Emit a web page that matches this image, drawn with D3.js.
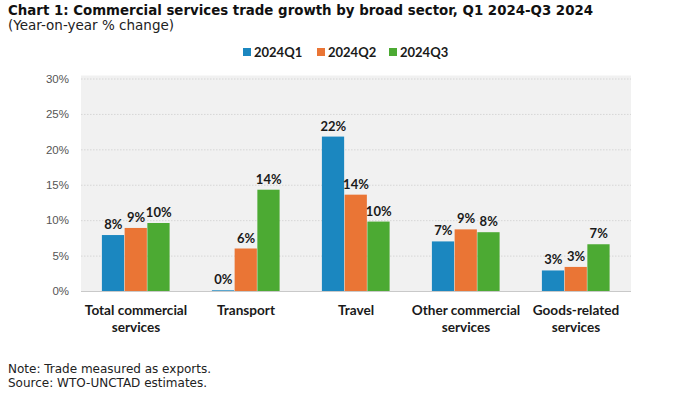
<!DOCTYPE html>
<html>
<head>
<meta charset="utf-8">
<script src="https://cdn.jsdelivr.net/npm/d3@7"></script>
<style>
  html, body { margin: 0; padding: 0; background: #ffffff; }
  svg { display: block; }
</style>
</head>
<body>
<svg id="chart" width="695" height="394"></svg>
<script>
const categories = [["Total commercial", "services"], ["Transport"], ["Travel"], ["Other commercial", "services"], ["Goods-related", "services"]];
const seriesNames = ["2024Q1", "2024Q2", "2024Q3"];
const q1 = [7.9, 0.1, 21.8, 7.0, 2.9];
const q2 = [8.9, 6.0, 13.6, 8.7, 3.4];
const q3 = [9.6, 14.3, 9.8, 8.3, 6.6];
const yTicks = [0, 5, 10, 15, 20, 25, 30];
const colors = ["#1b87c0", "#ea7535", "#4caa33"];

const series = [q1, q2, q3];
const svg = d3.select("#chart");
const W = 695, H = 394;
svg.append("rect").attr("width", W).attr("height", H).attr("fill", "#fff");

const plot = { left: 81, right: 631, top: 78.5, bottom: 291 };

const x0 = d3.scaleBand().domain(d3.range(categories.length))
  .range([plot.left, plot.right]).paddingInner(0.38).paddingOuter(0.19);
const x1 = d3.scaleBand().domain(d3.range(seriesNames.length))
  .range([0, x0.bandwidth()]);
const y = d3.scaleLinear().domain([0, 30]).range([plot.bottom, plot.top]);

// Title
svg.append("text").attr("x", 8).attr("y", 15)
  .attr("font-family", "DejaVu Sans, Verdana, sans-serif").attr("font-weight", "bold")
  .attr("font-size", 13.8).attr("fill", "#111")
  .attr("textLength", 585).attr("lengthAdjust", "spacingAndGlyphs")
  .text("Chart 1: Commercial services trade growth by broad sector, Q1 2024-Q3 2024");
svg.append("text").attr("x", 8).attr("y", 30)
  .attr("font-family", "DejaVu Sans, Verdana, sans-serif")
  .attr("font-size", 13.5).attr("fill", "#222")
  .text("(Year-on-year % change)");

// Plot background
svg.append("rect").attr("x", plot.left).attr("y", plot.top - 3)
  .attr("width", plot.right - plot.left).attr("height", plot.bottom - plot.top + 3)
  .attr("fill", "#f1f1f1");

// Gridlines
const yAxis = d3.axisLeft(y).tickValues(yTicks).tickFormat(d => d + "%")
  .tickSize(-(plot.right - plot.left)).tickPadding(12);
const gy = svg.append("g").attr("transform", `translate(${plot.left},0)`).call(yAxis);
gy.select(".domain").remove();
gy.selectAll(".tick line")
  .attr("stroke", d => d === 0 ? "#c9c9c9" : "#d6d6d6")
  .attr("stroke-width", d => d === 0 ? 1.2 : 1)
  .attr("stroke-dasharray", d => d === 0 ? null : "1.5,1.5");
gy.selectAll(".tick text")
  .attr("font-family", "Liberation Sans, Arial, sans-serif")
  .attr("font-size", 11.5).attr("fill", "#555");

// Bars
const groups = svg.append("g").selectAll("g").data(categories).join("g")
  .attr("transform", (d, i) => `translate(${x0(i)},0)`);

groups.each(function(cat, ci) {
  const g = d3.select(this);
  series.forEach((vals, si) => {
    const v = vals[ci];
    g.append("rect")
      .attr("x", x1(si)).attr("width", x1.bandwidth() - 0.5)
      .attr("y", y(v)).attr("height", y(0) - y(v))
      .attr("fill", colors[si]);
    g.append("text")
      .attr("x", x1(si) + x1.bandwidth() / 2)
      .attr("y", y(v) - 6)
      .attr("text-anchor", "middle")
      .attr("font-family", "Lato, Open Sans, sans-serif").attr("font-weight", "bold")
      .attr("font-size", 13).attr("fill", "#1a1a1a")
      .text(Math.round(v) + "%");
  });
  const t = g.append("text")
    .attr("text-anchor", "middle")
    .attr("font-family", "Lato, Open Sans, sans-serif").attr("font-weight", "bold")
    .attr("font-size", 13.6).attr("fill", "#1a1a1a");
  cat.forEach((line, li) => {
    t.append("tspan").attr("x", x0.bandwidth() / 2).attr("y", 315 + li * 17).text(line);
  });
});

// Legend
const legendX = [243, 317, 389];
seriesNames.forEach((name, i) => {
  svg.append("rect").attr("x", legendX[i]).attr("y", 48).attr("width", 8).attr("height", 8)
    .attr("fill", colors[i]);
  svg.append("text").attr("x", legendX[i] + 11).attr("y", 57)
    .attr("font-family", "Lato, Open Sans, sans-serif").attr("font-weight", "bold")
    .attr("font-size", 13).attr("fill", "#1a1a1a").text(name);
});

// Footnotes
svg.append("text").attr("x", 8).attr("y", 373)
  .attr("font-family", "DejaVu Sans, Verdana, sans-serif")
  .attr("font-size", 12).attr("fill", "#222").text("Note: Trade measured as exports.");
svg.append("text").attr("x", 8).attr("y", 387)
  .attr("font-family", "DejaVu Sans, Verdana, sans-serif")
  .attr("font-size", 12).attr("fill", "#222").text("Source: WTO-UNCTAD estimates.");
</script>
</body>
</html>
